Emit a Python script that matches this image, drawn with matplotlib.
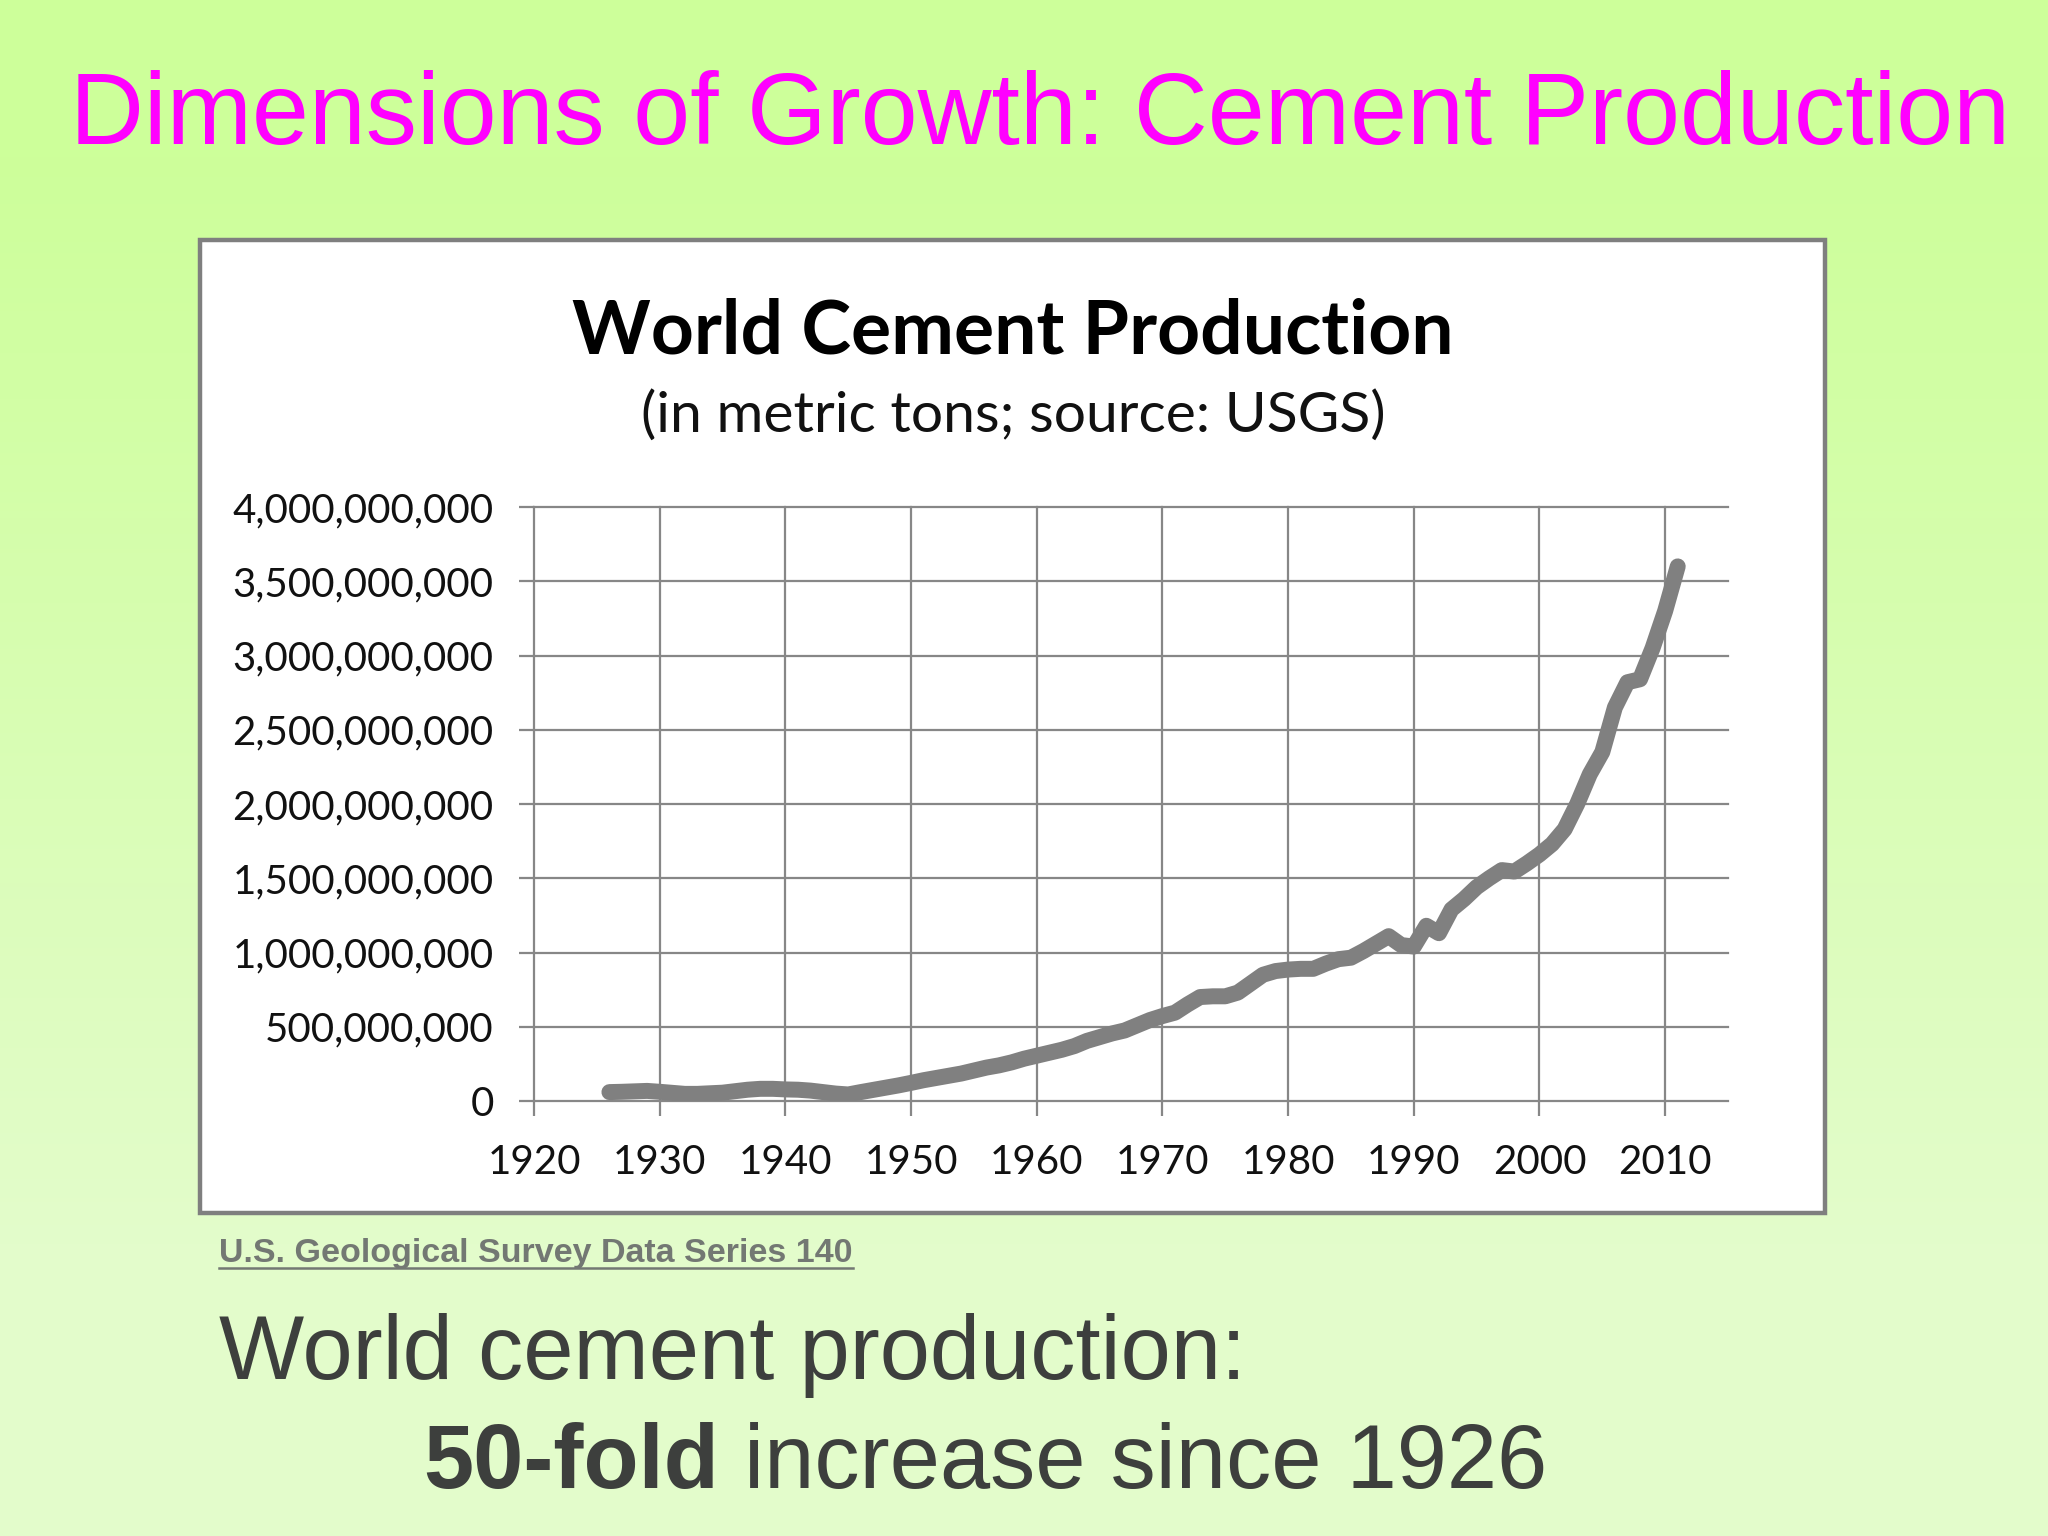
import matplotlib
matplotlib.use("Agg")
import matplotlib.pyplot as plt
import numpy as np
from matplotlib.patches import Rectangle
from matplotlib.lines import Line2D
from matplotlib.ticker import FuncFormatter
from matplotlib.colors import LinearSegmentedColormap

# ---------------- data ----------------
years = list(range(1926, 2012))
production_mt = [  # million metric tons
    60, 62, 65, 68, 62, 55, 48, 48, 52, 56,
    66, 76, 82, 82, 78, 76, 70, 60, 50, 44,
    60, 75, 90, 105, 122, 140, 155, 170, 185, 205,
    225, 240, 260, 285, 305, 325, 345, 370, 405, 430,
    455, 475, 510, 545, 572, 595, 650, 700, 705, 705,
    730, 790, 850, 875, 885, 890, 890, 925, 955, 965,
    1010, 1060, 1110, 1050, 1040, 1180, 1130, 1290, 1360, 1440,
    1500, 1555, 1545, 1600, 1660, 1730, 1830, 2000, 2200, 2350,
    2650, 2820, 2840, 3050, 3300, 3600,
]
production = [v * 1e6 for v in production_mt]
x_ticks = [1920, 1930, 1940, 1950, 1960, 1970, 1980, 1990, 2000, 2010]
y_ticks = [0, 5e8, 1e9, 1.5e9, 2e9, 2.5e9, 3e9, 3.5e9, 4e9]

slide_title = "Dimensions of Growth: Cement Production"
chart_title = "World Cement Production"
chart_subtitle = "(in metric tons; source: USGS)"
source_text = "U.S. Geological Survey Data Series 140"
body_line1 = "World cement production:"
body_bold = "50-fold"
body_rest = " increase since 1926"

# ---------------- figure ----------------
W, H = 2048, 1536
fig = plt.figure(figsize=(W / 100, H / 100), dpi=100)

def fx(x):
    return x / W

def fy(y):
    return 1 - y / H

# background gradient
bg = fig.add_axes([0, 0, 1, 1], zorder=-10)
bg.set_axis_off()
cmap = LinearSegmentedColormap.from_list("g", ["#CDFF9A", "#E3FCCB"])
ys = np.linspace(0, H, 400)
grad = np.clip((ys - 150) / 1100, 0, 1)[:, None]
bg.imshow(grad, aspect="auto", cmap=cmap, extent=[0, 1, 0, 1], origin="upper", vmin=0, vmax=1)

# chart frame
frame = Rectangle((fx(200), fy(1213)), fx(1825) - fx(200), fy(240) - fy(1213),
                  transform=fig.transFigure, facecolor="white", edgecolor="#7f7f7f",
                  linewidth=3.2, zorder=0)
fig.patches.append(frame)

# plot axes
ax = fig.add_axes([fx(534), fy(1101), fx(1728) - fx(534), fy(507) - fy(1101)], zorder=2)
ax.set_facecolor("none")
ax.plot(years, production, color="#808080", linewidth=11.5,
        solid_capstyle="round", solid_joinstyle="round", zorder=3)
ax.set_xlim(1920, 2015)
ax.set_ylim(0, 4e9)
ax.set_xticks(x_ticks)
ax.set_yticks(y_ticks)
ax.yaxis.set_major_formatter(FuncFormatter(lambda v, p: f"{v:,.0f}"))
for s in ax.spines.values():
    s.set_visible(False)
gcol = "#878787"
ax.grid(True, color=gcol, linewidth=1.6)
ax.set_axisbelow(True)
for ln in ax.get_xgridlines() + ax.get_ygridlines():
    ln.set_clip_on(False)
ax.tick_params(axis="both", direction="out", length=11, width=1.6, color=gcol,
               labelsize=29, labelcolor="#111111")
ax.tick_params(axis="y", pad=18)
ax.tick_params(axis="x", pad=20)
for lab in ax.get_xticklabels() + ax.get_yticklabels():
    lab.set_family("Lato")

# texts
fig.text(fx(1040), fy(144), slide_title, color="#FF00FF", fontsize=73.7,
         family="Liberation Sans", ha="center", va="baseline")
fig.text(fx(1013), fy(353), chart_title, color="black", fontsize=54,
         family="Lato", weight="bold", ha="center", va="baseline", zorder=5)
fig.text(fx(1013), fy(432), chart_subtitle, color="#111111", fontsize=41,
         family="Lato", ha="center", va="baseline", zorder=5)

src = fig.text(fx(219), fy(1262), source_text, color="#737873", fontsize=24.5,
               family="Liberation Sans", weight="bold", ha="left", va="baseline")
fig.text(fx(219), fy(1379), body_line1, color="#3d3f3d", fontsize=65,
         family="Liberation Sans", ha="left", va="baseline")
b = fig.text(fx(423), fy(1488), body_bold, color="#3d3f3d", fontsize=65,
             family="Liberation Sans", weight="bold", ha="left", va="baseline")

renderer = fig.canvas.get_renderer()
bb = b.get_window_extent(renderer=renderer)
fig.text(bb.x1 / W, fy(1488), body_rest, color="#3d3f3d", fontsize=65,
         family="Liberation Sans", ha="left", va="baseline")

sb = src.get_window_extent(renderer=renderer)
fig.lines.append(Line2D([sb.x0 / W, sb.x1 / W], [fy(1268), fy(1268)],
                        transform=fig.transFigure, color="#737873", linewidth=1.8))

fig.savefig("out.png", dpi=100)
